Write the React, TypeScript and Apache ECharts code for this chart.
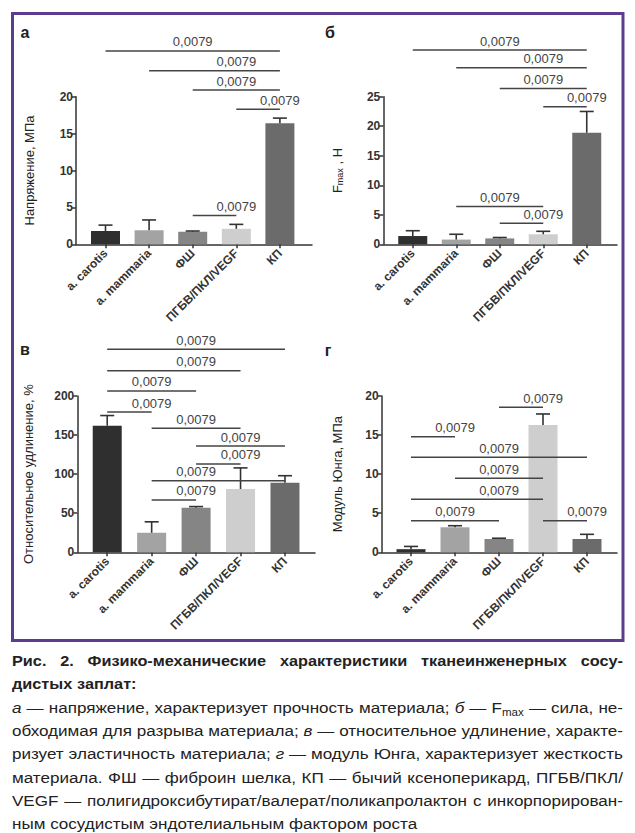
import React, { useEffect, useRef } from "react";
import * as echarts from "echarts";

// ---------- data ----------
const CATEGORIES = ["a. carotis", "a. mammaria", "ФШ", "ПГБВ/ПКЛ/VEGF", "КП"];
const BAR_COLORS = ["#2f2f2f", "#a3a3a3", "#858585", "#cecece", "#6b6b6b"];
const P_LABEL = "0,0079";

const STRESS_MEAN = [1.8, 1.9, 1.7, 2.1, 16.4];
const STRESS_ERR = [0.8, 1.4, 0.1, 0.6, 0.7];
const STRESS_BRACKETS = [[0, 4, 26.2], [1, 4, 23.5], [2, 4, 20.9], [3, 4, 18.3], [2, 3, 3.9]];

const FMAX_MEAN = [1.4, 0.8, 1.0, 1.7, 18.9];
const FMAX_ERR = [0.9, 0.9, 0.15, 0.5, 3.6];
const FMAX_BRACKETS = [[0, 4, 32.9], [1, 4, 29.9], [2, 4, 26.4], [3, 4, 23.3], [1, 3, 6.4], [2, 3, 3.55]];

const ELONG_MEAN = [162, 25, 57, 81, 89];
const ELONG_ERR = [13, 14, 1.5, 27, 9];
const ELONG_BRACKETS = [
  [0, 4, 259.7], [0, 3, 232.4], [0, 2, 206.4], [0, 1, 179.5], [1, 3, 158.6],
  [2, 4, 136], [2, 3, 113], [1, 4, 91.7, 1.5], [1, 2, 67],
];

const YOUNG_MEAN = [0.4, 3.2, 1.7, 16.3, 1.7];
const YOUNG_ERR = [0.35, 0.2, 0.1, 1.4, 0.6];
const YOUNG_BRACKETS = [
  [2, 3, 18.55], [0, 1, 14.8], [0, 4, 12.15], [1, 3, 9.47], [0, 3, 6.8], [0, 2, 4.05], [3, 4, 4.05],
];

const Y_MAX = [20, 25, 200, 20];
const Y_INTERVAL = [5, 5, 50, 5];
const Y_NAMES = ["Напряжение, МПа", "F{s|max} , Н", "Относительное удлинение, %", "Модуль Юнга, МПа"];
const PANEL_LETTERS = ["а", "б", "в", "г"];

const CAPTION = [
  { b: true, j: true, t: "Рис. 2. Физико-механические характеристики тканеинженерных сосу-" },
  { b: true, j: false, t: "дистых заплат:" },
  { b: false, j: true, t: "*а* — напряжение, характеризует прочность материала; *б* — F_max_ — сила, не-" },
  { b: false, j: true, t: "обходимая для разрыва материала; *в* — относительное удлинение, характе-" },
  { b: false, j: true, t: "ризует эластичность материала; *г* — модуль Юнга, характеризует жесткость" },
  { b: false, j: true, t: "материала. ФШ — фиброин шелка, КП — бычий ксеноперикард, ПГБВ/ПКЛ/" },
  { b: false, j: true, t: "VEGF — полигидроксибутират/валерат/поликапролактон с инкорпорирован-" },
  { b: false, j: false, t: "ным сосудистым эндотелиальным фактором роста" },
];

// ---------- layout ----------
const FONT = '"Liberation Sans", Arial, Helvetica, sans-serif';
const LAYOUT = [
  { axisX: 76, right: 312, barL: 83.7, barR: 301.7, top: 96.7, bottom: 244.3, nameGap: 40, lx: 25, ly: 32 },
  { axisX: 383.3, right: 617, barL: 391, barR: 608.5, top: 96.7, bottom: 244.3, nameGap: 39, lx: 330, ly: 32 },
  { axisX: 77.3, right: 315, barL: 85, barR: 307.2, top: 396, bottom: 552.3, nameGap: 42, lx: 25, ly: 349 },
  { axisX: 381.7, right: 617, barL: 389, barR: 609, top: 396, bottom: 552.3, nameGap: 38, lx: 328, ly: 350 },
];
const PANELS = [
  { mean: STRESS_MEAN, err: STRESS_ERR, br: STRESS_BRACKETS },
  { mean: FMAX_MEAN, err: FMAX_ERR, br: FMAX_BRACKETS },
  { mean: ELONG_MEAN, err: ELONG_ERR, br: ELONG_BRACKETS },
  { mean: YOUNG_MEAN, err: YOUNG_ERR, br: YOUNG_BRACKETS },
];

const AXIS_COLOR = "#333";
const INK = "#444";

function errorRender(params: any, api: any) {
  const i = api.value(0);
  const p0 = api.coord([i, api.value(1)]);
  const p1 = api.coord([i, api.value(2)]);
  const st = { stroke: AXIS_COLOR, lineWidth: 1.6 };
  return {
    type: "group",
    children: [
      { type: "line", shape: { x1: p0[0], y1: p0[1], x2: p1[0], y2: p1[1] }, style: st },
      { type: "line", shape: { x1: p1[0] - 7, y1: p1[1], x2: p1[0] + 7, y2: p1[1] }, style: st },
    ],
  };
}

function bracketRender(params: any, api: any) {
  const y = api.value(2);
  const p1 = api.coord([api.value(0), y]);
  const p2 = api.coord([api.value(1), y]);
  const pl = api.coord([api.value(3), y]);
  return {
    type: "group",
    children: [
      { type: "line", shape: { x1: p1[0], y1: p1[1], x2: p2[0], y2: p2[1] }, style: { stroke: INK, lineWidth: 1.5 } },
      {
        type: "text",
        x: pl[0],
        y: p1[1] - 2.5,
        style: {
          text: P_LABEL, align: "center", verticalAlign: "bottom",
          textAlign: "center", textVerticalAlign: "bottom",
          fill: INK, fontSize: 13, fontFamily: FONT,
        },
      },
    ],
  };
}

// ---------- caption layout ----------
const CAP_LEFT = 12;
const CAP_WIDTH = 611;
const CAP_BASE = 666;
const CAP_STEP = 23.3;
const CAP_SIZE = 15.5;
const SUB_SIZE = 10.5;
const CAP_SX = 1.1;
const CAP_SX_BOLD = 1.05;

type Run = { text: string; italic: boolean; sub: boolean; bold: boolean };

function parseWord(w: string, bold: boolean): Run[] {
  const runs: Run[] = [];
  let italic = false, sub = false, cur = "";
  const flush = () => { if (cur) runs.push({ text: cur, italic, sub, bold }); cur = ""; };
  for (const ch of w) {
    if (ch === "*") { flush(); italic = !italic; }
    else if (ch === "_") { flush(); sub = !sub; }
    else cur += ch;
  }
  flush();
  return runs;
}

function buildCaption(): any[] {
  const canvas = document.createElement("canvas");
  const ctx = canvas.getContext("2d")!;
  const sxOf = (r: Run) => (r.bold ? CAP_SX_BOLD : CAP_SX);
  const measure = (r: Run) => {
    ctx.font = `${r.italic ? "italic " : ""}${r.bold ? "bold " : ""}${r.sub ? SUB_SIZE : CAP_SIZE}px "Liberation Sans"`;
    return ctx.measureText(r.text).width * sxOf(r);
  };
  const space = (() => { ctx.font = `${CAP_SIZE}px "Liberation Sans"`; return ctx.measureText(" ").width * CAP_SX; })();
  const els: any[] = [];
  CAPTION.forEach((line, li) => {
    const base = CAP_BASE + li * CAP_STEP;
    const words = line.t.split(" ").map((w) => parseWord(w, line.b));
    const widths = words.map((rs) => rs.reduce((s, r) => s + measure(r), 0));
    const total = widths.reduce((a, b) => a + b, 0);
    let gap = line.j && words.length > 1 ? (CAP_WIDTH - total) / (words.length - 1) : space;
    if (gap < space * 0.6) gap = space * 0.6;
    let x = CAP_LEFT;
    words.forEach((rs) => {
      rs.forEach((r) => {
        const size = r.sub ? SUB_SIZE : CAP_SIZE;
        const yc = r.sub ? base + 3 - 0.35 * SUB_SIZE : base - 0.35 * CAP_SIZE;
        els.push({
          type: "text",
          x, y: yc, scaleX: sxOf(r), silent: true,
          style: {
            text: r.text, fontSize: size, fontFamily: FONT,
            fontWeight: r.bold ? "bold" : "normal",
            fontStyle: r.italic ? "italic" : "normal",
            fill: "#222", align: "left", verticalAlign: "middle",
            textAlign: "left", textVerticalAlign: "middle",
          },
        });
        x += measure(r);
      });
      x += gap;
    });
  });
  return els;
}

function buildOption(): any {
  const grid: any[] = [], xAxis: any[] = [], yAxis: any[] = [], series: any[] = [];
  const lineStyle = { color: AXIS_COLOR, width: 1.5 };
  PANELS.forEach((p, k) => {
    const L = LAYOUT[k];
    const h = L.bottom - L.top;
    grid.push({ left: L.axisX, top: L.top, width: L.right - L.axisX, height: h, containLabel: false });
    grid.push({ left: L.barL, top: L.top, width: L.barR - L.barL, height: h, containLabel: false });
    const g0 = 2 * k, g1 = 2 * k + 1;
    xAxis.push({
      gridIndex: g0, type: "value", min: 0, max: 1,
      axisLine: { show: true, lineStyle }, axisTick: { show: false }, axisLabel: { show: false }, splitLine: { show: false },
    });
    xAxis.push({
      gridIndex: g1, type: "category", data: CATEGORIES,
      axisLine: { show: false },
      axisTick: { show: true, alignWithLabel: true, length: 4, lineStyle },
      axisLabel: { rotate: 45, margin: 7, fontSize: 12, fontWeight: "bold", fontFamily: FONT, color: "#333", interval: 0 },
      splitLine: { show: false },
    });
    yAxis.push({
      gridIndex: g0, type: "value", min: 0, max: Y_MAX[k], interval: Y_INTERVAL[k],
      axisLine: { show: true, lineStyle },
      axisTick: { show: true, length: 4, lineStyle },
      axisLabel: { fontSize: 12, fontWeight: "bold", fontFamily: FONT, color: "#333", margin: 3 },
      splitLine: { show: false },
      name: Y_NAMES[k], nameLocation: "middle", nameRotate: 90, nameGap: L.nameGap,
      nameTextStyle: {
        fontSize: 13, fontFamily: FONT, color: "#222",
        rich: { s: { fontSize: 9, fontFamily: FONT, color: "#222", verticalAlign: "bottom" } },
      },
    });
    yAxis.push({ gridIndex: g1, type: "value", min: 0, max: Y_MAX[k], show: false, splitLine: { show: false } });

    series.push({
      type: "bar", xAxisIndex: g1, yAxisIndex: g1, barWidth: 29, z: 2,
      data: p.mean.map((v, i) => ({ value: v, itemStyle: { color: BAR_COLORS[i] } })),
    });
    series.push({
      type: "custom", xAxisIndex: g1, yAxisIndex: g1, z: 3, renderItem: errorRender,
      encode: { x: 0, y: [1, 2] },
      data: p.mean.map((v, i) => [i, v, v + p.err[i]]),
    });
    series.push({
      type: "custom", xAxisIndex: g1, yAxisIndex: g1, z: 4, clip: false, renderItem: bracketRender,
      encode: { x: [0, 1], y: 2 },
      data: p.br.map((b) => [b[0], b[1], b[2], b.length > 3 ? b[3] : (b[0] + b[1]) / 2]),
    });
  });

  const graphic: any[] = [
    {
      type: "rect", silent: true,
      shape: { x: 12.5, y: 13.5, width: 610.5, height: 627 },
      style: { fill: "none", stroke: "#5c3c8f", lineWidth: 3 },
    },
    ...PANEL_LETTERS.map((t, k) => ({
      type: "text", x: LAYOUT[k].lx, y: LAYOUT[k].ly, silent: true,
      style: {
        text: t, fontSize: 16, fontWeight: "bold", fontFamily: FONT, fill: "#222",
        align: "center", verticalAlign: "middle", textAlign: "center", textVerticalAlign: "middle",
      },
    })),
    ...buildCaption(),
  ];

  return { animation: false, backgroundColor: "#ffffff", grid, xAxis, yAxis, series, graphic };
}

export default function App() {
  const ref = useRef<HTMLDivElement>(null);
  useEffect(() => {
    if (!ref.current) return;
    const chart = echarts.init(ref.current, undefined, { renderer: "svg" });
    chart.setOption(buildOption());
    return () => chart.dispose();
  }, []);
  return (
    <div
      ref={ref}
      style={{ position: "fixed", left: 0, top: 0, width: 635, height: 833, background: "#fff" }}
    />
  );
}
